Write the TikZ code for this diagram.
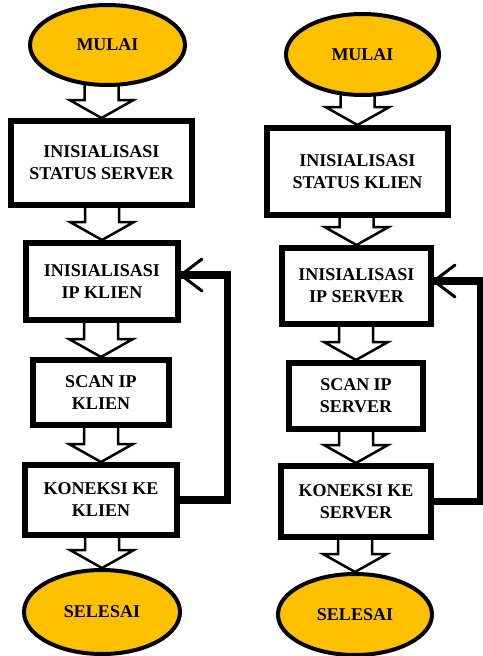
\documentclass[tikz,border=0pt]{standalone}
\usepackage{fontspec}
\setmainfont{Liberation Serif}
\usetikzlibrary{calc,shapes.geometric}
\pgfdeclarelayer{background}
\pgfsetlayers{background,main}

\definecolor{termgold}{RGB}{255,192,0}

\tikzset{
  lbl/.style={font=\bfseries\fontsize{18}{22}\selectfont, text=black, align=center, inner sep=0pt},
  procbox/.style={lbl, draw=black, line width=6pt, fill=white, rectangle},
  terminal/.style={lbl, draw=black, line width=4pt, fill=termgold, ellipse},
  blockarrow/.style={draw=black, line width=2.5pt, fill=white, line join=miter},
  loopline/.style={draw=black, line width=7.5pt, line join=miter},
  loophead/.style={draw=black, line width=3pt, line cap=round, line join=round}
}

% hollow block arrow between two stacked nodes
\newcommand\blkarrow[2]{%
  \begin{pgfonlayer}{background}
    \draw[blockarrow] let \p1=(#1.south), \p2=(#2.north) in
      (\x2-17pt,\y1+14pt) -- (\x2-17pt,\y2+18pt) -- (\x2-32pt,\y2+18pt)
      -- (\p2) -- (\x2+32pt,\y2+18pt) -- (\x2+17pt,\y2+18pt)
      -- (\x2+17pt,\y1+14pt) -- cycle;
  \end{pgfonlayer}}

\begin{document}
\begin{tikzpicture}[x=1pt, y=-1pt]
\useasboundingbox (0,0) rectangle (482,656);

% ---- server side ----
\node[terminal, minimum width=155pt, minimum height=80pt] (ls) at (107.5,45) {MULAI};
\node[procbox, minimum width=181pt, minimum height=84pt] (l1) at (101.5,163) {INISIALISASI\\STATUS SERVER};
\node[procbox, minimum width=152pt, minimum height=77pt] (l2) at (102,281.5) {INISIALISASI\\IP KLIEN};
\node[procbox, minimum width=136pt, minimum height=65pt] (l3) at (101,392.5) {SCAN IP\\KLIEN};
\node[procbox, minimum width=152pt, minimum height=70pt] (l4) at (101,500) {KONEKSI KE\\KLIEN};
\node[terminal, minimum width=156pt, minimum height=84pt] (le) at (102,612) {SELESAI};

\blkarrow{ls}{l1}
\blkarrow{l1}{l2}
\blkarrow{l2}{l3}
\blkarrow{l3}{l4}
\blkarrow{l4}{le}

\coordinate (lc) at (227.5,275);
\coordinate (ltip) at (lc -| l2.east);
\draw[loopline] (l4.east) -| (lc) -- (ltip);
\draw[loophead] ($(ltip)+(21,-16)$) -- (ltip) -- ($(ltip)+(21,16)$);

% ---- client side ----
\node[terminal, minimum width=153pt, minimum height=81pt] (rs) at (362.5,54.5) {MULAI};
\node[procbox, minimum width=181pt, minimum height=87pt] (r1) at (357.5,171.5) {INISIALISASI\\STATUS KLIEN};
\node[procbox, minimum width=149pt, minimum height=76pt] (r2) at (356.5,286) {INISIALISASI\\IP SERVER};
\node[procbox, minimum width=134pt, minimum height=66pt] (r3) at (356,396) {SCAN IP\\SERVER};
\node[procbox, minimum width=150pt, minimum height=71pt] (r4) at (356,501.5) {KONEKSI KE\\SERVER};
\node[terminal, minimum width=154pt, minimum height=81pt] (re) at (355,614.5) {SELESAI};

\blkarrow{rs}{r1}
\blkarrow{r1}{r2}
\blkarrow{r2}{r3}
\blkarrow{r3}{r4}
\blkarrow{r4}{re}

\coordinate (rc) at (481,281);
\coordinate (rtip) at (rc -| r2.east);
\draw[loopline] (r4.east) -| (rc) -- (rtip);
\draw[loophead] ($(rtip)+(21,-16)$) -- (rtip) -- ($(rtip)+(21,16)$);
\end{tikzpicture}
\end{document}
